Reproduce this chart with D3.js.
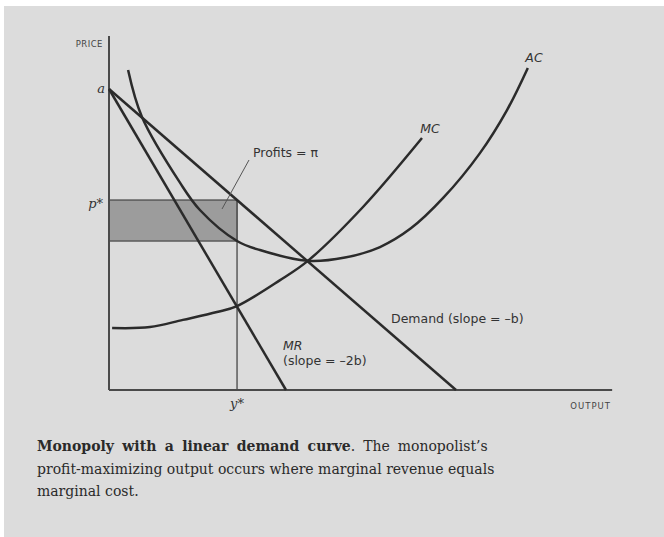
<!DOCTYPE html>
<html>
<head>
<meta charset="utf-8">
<script src="https://cdn.jsdelivr.net/npm/d3@7"></script>
<style>
  body { margin: 0; background: #fff; }
  svg { display: block; }
</style>
</head>
<body>
<div id="chart"></div>
<script>
// values (output Q, price P)
var demandQ = [0, 10]
var demandP = [10, 0]
var mrQ = [0, 5.1]
var mrP = [10, 0]
var mcQ = [0.09, 1.18, 2.13, 3.11, 3.69, 4.93, 5.73, 7.32, 9.02]
var mcP = [2.06, 2.09, 2.33, 2.59, 2.79, 3.65, 4.29, 6.08, 8.37]
var acQ = [0.55, 0.95, 2.05, 2.62, 3.69, 4.35, 5.73, 6.8, 7.81, 8.7, 9.63, 10.69, 11.47, 12.07]
var acP = [10.63, 9.07, 6.88, 5.98, 4.95, 4.65, 4.29, 4.4, 4.75, 5.37, 6.38, 7.87, 9.3, 10.7]
var yStar = 3.69
var pStar = 6.31
var acAtYStar = 4.95
var axisMaxQ = 14.5
var axisMaxP = 11.76

var captionLines = [
  [["Monopoly with a linear demand curve", "bold"], [".  The monopolist\u2019s", "normal"]],
  [["profit-maximizing output occurs where marginal revenue equals", "normal"]],
  [["marginal cost.", "normal"]]
]

function drawChart(){
  var width = 664
  var height = 537

  var svg = d3.select("#chart").append("svg").attr("width", width).attr("height", height)

  // paper
  svg.append("rect").attr("x", 0).attr("y", 0).attr("width", width).attr("height", height).attr("fill", "#ffffff")
  svg.append("rect").attr("x", 4).attr("y", 6).attr("width", width - 4).attr("height", height - 6).attr("fill", "#dcdcdc")

  var x = d3.scaleLinear().domain([0, 10]).range([109, 456])
  var y = d3.scaleLinear().domain([0, 10]).range([390, 89])

  var ink = "#2b2b2b"
  var font = "'DejaVu Sans', sans-serif"

  // profit rectangle
  svg.append("rect")
    .attr("x", x(0))
    .attr("y", y(pStar))
    .attr("width", x(yStar) - x(0))
    .attr("height", y(acAtYStar) - y(pStar))
    .attr("fill", "#9c9c9c")
    .attr("stroke", "#5a5a5a")
    .attr("stroke-width", 1.5)

  // vertical at y*
  svg.append("line")
    .attr("x1", x(yStar)).attr("x2", x(yStar))
    .attr("y1", y(pStar)).attr("y2", y(0))
    .attr("stroke", "#5a5a5a").attr("stroke-width", 1.5)

  // axes
  svg.append("line")
    .attr("x1", x(0)).attr("x2", x(0))
    .attr("y1", y(axisMaxP)).attr("y2", y(0))
    .attr("stroke", "#4a4a4a").attr("stroke-width", 2)
  svg.append("line")
    .attr("x1", x(0)).attr("x2", x(axisMaxQ))
    .attr("y1", y(0)).attr("y2", y(0))
    .attr("stroke", "#4a4a4a").attr("stroke-width", 2.2)

  var line = d3.line()
    .x(function(d){ return x(d[0]) })
    .y(function(d){ return y(d[1]) })
  var curve = d3.line()
    .x(function(d){ return x(d[0]) })
    .y(function(d){ return y(d[1]) })
    .curve(d3.curveCatmullRom.alpha(0.5))

  var series = [
    { q: demandQ, p: demandP, gen: line },
    { q: mrQ, p: mrP, gen: line },
    { q: mcQ, p: mcP, gen: curve },
    { q: acQ, p: acP, gen: curve }
  ]
  series.forEach(function(s){
    var pts = d3.zip(s.q, s.p)
    svg.append("path")
      .attr("d", s.gen(pts))
      .attr("fill", "none")
      .attr("stroke", ink)
      .attr("stroke-width", 2.5)
  })

  // leader for profits label
  svg.append("line")
    .attr("x1", 249).attr("y1", 160)
    .attr("x2", 222).attr("y2", 209)
    .attr("stroke", "#555").attr("stroke-width", 1)

  // labels
  function label(t, px, py, size, opts){
    opts = opts || {}
    return svg.append("text")
      .attr("x", px).attr("y", py)
      .attr("font-family", opts.family || font)
      .attr("font-size", size)
      .attr("font-style", opts.italic ? "italic" : "normal")
      .attr("text-anchor", opts.anchor || "start")
      .attr("letter-spacing", opts.spacing || 0)
      .attr("fill", opts.fill || "#333")
      .text(t)
  }

  var serif = "'DejaVu Serif', serif"
  label("PRICE", 103, 47, 8.5, { anchor: "end", fill: "#444", spacing: 0.5 })
  label("a", 105, 93, 13, { anchor: "end", italic: true, family: serif })
  label("p*", 103, 208, 13, { anchor: "end", italic: true, family: serif })
  label("y*", x(yStar), 408, 13, { anchor: "middle", italic: true, family: serif })
  label("OUTPUT", 611, 409, 8.5, { anchor: "end", fill: "#444", spacing: 1 })
  label("Profits = \u03c0", 253, 157, 12.5)
  label("MC", 430, 133, 12.5, { anchor: "middle", italic: true })
  label("AC", 534, 62, 12.5, { anchor: "middle", italic: true })
  label("Demand (slope = \u2013b)", 391, 323, 12.5)
  label("MR", 283, 350, 12.5, { italic: true })
  label("(slope = \u20132b)", 283, 365, 12.5)

  // caption
  var capY = [451, 474, 496]
  captionLines.forEach(function(parts, i){
    var t = svg.append("text")
      .attr("x", 37).attr("y", capY[i])
      .attr("font-family", "'DejaVu Serif', 'Liberation Serif', serif")
      .attr("font-size", 14)
      .attr("word-spacing", i === 0 ? 3.5 : 0)
      .attr("fill", "#2a2a2a")
    parts.forEach(function(p){
      t.append("tspan").attr("font-weight", p[1]).text(p[0])
    })
  })
}

drawChart()
</script>
</body>
</html>
